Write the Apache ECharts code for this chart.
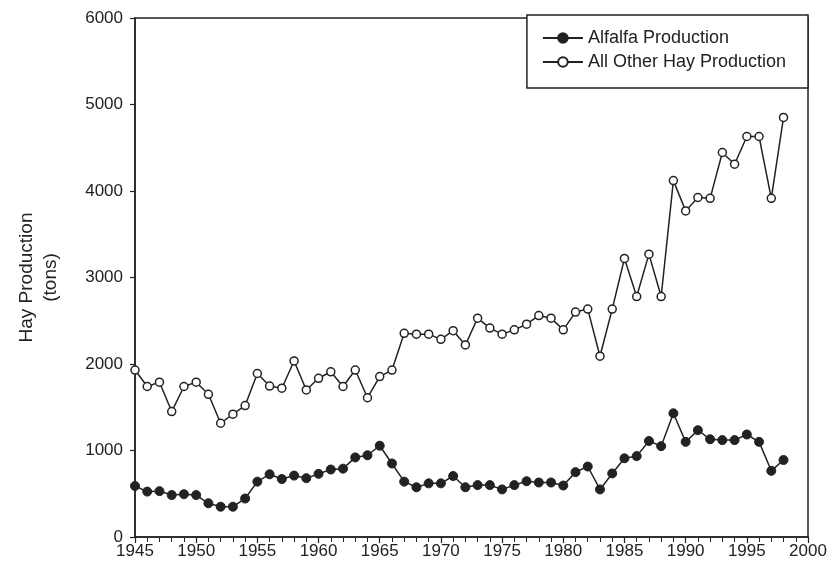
<!DOCTYPE html>
<html>
<head>
<meta charset="utf-8">
<title>Hay Production</title>
<script src="https://cdn.jsdelivr.net/npm/echarts@6/dist/echarts.min.js"></script>
<style>
  html, body { margin: 0; padding: 0; background: #fff; }
  #chart { width: 832px; height: 580px; }
</style>
</head>
<body>
<div id="chart"></div>
<script>
const years = [
  1945, 1946, 1947, 1948, 1949, 1950, 1951, 1952, 1953, 1954,
  1955, 1956, 1957, 1958, 1959, 1960, 1961, 1962, 1963, 1964,
  1965, 1966, 1967, 1968, 1969, 1970, 1971, 1972, 1973, 1974,
  1975, 1976, 1977, 1978, 1979, 1980, 1981, 1982, 1983, 1984,
  1985, 1986, 1987, 1988, 1989, 1990, 1991, 1992, 1993, 1994,
  1995, 1996, 1997, 1998
]
const alfalfa = [
  590, 525, 530, 485, 495, 485, 390, 350, 350, 445,
  640, 725, 670, 710, 680, 730, 780, 790, 920, 945,
  1055, 850, 640, 575, 620, 620, 705, 575, 600, 600,
  550, 600, 645, 630, 630, 595, 750, 815, 550, 735,
  910, 935, 1110, 1050, 1430, 1100, 1235, 1130, 1120, 1120,
  1185, 1100, 765, 890
]
const otherHay = [
  1930, 1740, 1790, 1450, 1740, 1790, 1650, 1315, 1420, 1520,
  1890, 1745, 1720, 2035, 1700, 1835, 1910, 1740, 1930, 1610,
  1855, 1930, 2355, 2345, 2345, 2285, 2385, 2220, 2530, 2415,
  2345, 2395, 2460, 2560, 2530, 2395, 2600, 2635, 2090, 2635,
  3220, 2780, 3270, 2780, 4120, 3770, 3925, 3915, 4445, 4310,
  4630, 4630, 3915, 4850
]
const seriesNames = ['Alfalfa Production', 'All Other Hay Production']

const font = 'Liberation Sans, Arial, sans-serif'
const ink = '#222'

const chart = echarts.init(document.getElementById('chart'), null, { renderer: 'canvas' })

function pairs(vals) {
  return years.map((y, i) => [y, vals[i]])
}

chart.setOption({
  animation: false,
  backgroundColor: '#fff',
  grid: {
    left: 135,
    right: 24,
    top: 18,
    bottom: 43,
    show: true,
    borderColor: ink,
    borderWidth: 1.5,
    backgroundColor: 'transparent'
  },
  legend: {
    right: 24,
    top: 15,
    orient: 'vertical',
    align: 'left',
    itemWidth: 40,
    itemHeight: 12,
    itemGap: 6,
    padding: [14, 22, 17, 15],
    borderColor: ink,
    borderWidth: 1.5,
    backgroundColor: '#fff',
    z: 10,
    textStyle: { fontFamily: font, fontSize: 18, color: ink },
    data: seriesNames
  },
  xAxis: {
    type: 'value',
    min: 1945,
    max: 2000,
    interval: 5,
    axisLine: { show: true, lineStyle: { color: ink, width: 1.5 } },
    axisTick: { show: true, length: 6, lineStyle: { color: ink, width: 1.2 } },
    minorTick: { show: true, splitNumber: 5, length: 5, lineStyle: { color: ink, width: 1 } },
    splitLine: { show: false },
    axisLabel: {
      fontFamily: font, fontSize: 17, color: ink, margin: 6,
      formatter: v => String(v)
    }
  },
  yAxis: {
    type: 'value',
    min: 0,
    max: 6000,
    interval: 1000,
    name: 'Hay Production\n(tons)',
    nameLocation: 'middle',
    nameGap: 72,
    nameTextStyle: { fontFamily: font, fontSize: 19, color: ink, lineHeight: 24 },
    axisLine: { show: true, lineStyle: { color: ink, width: 1.5 } },
    axisTick: { show: true, length: 5, lineStyle: { color: ink, width: 1.2 } },
    splitLine: { show: false },
    axisLabel: {
      fontFamily: font, fontSize: 17, color: ink, margin: 12,
      formatter: v => String(v)
    }
  },
  series: [
    {
      name: seriesNames[0],
      type: 'line',
      data: pairs(alfalfa),
      symbol: 'circle',
      symbolSize: 9,
      lineStyle: { color: ink, width: 1.5 },
      itemStyle: { color: ink, borderColor: ink, borderWidth: 1 }
    },
    {
      name: seriesNames[1],
      type: 'line',
      data: pairs(otherHay),
      symbol: 'circle',
      symbolSize: 8,
      lineStyle: { color: ink, width: 1.5 },
      itemStyle: { color: '#fff', borderColor: ink, borderWidth: 1.5 }
    }
  ]
})
</script>
</body>
</html>
